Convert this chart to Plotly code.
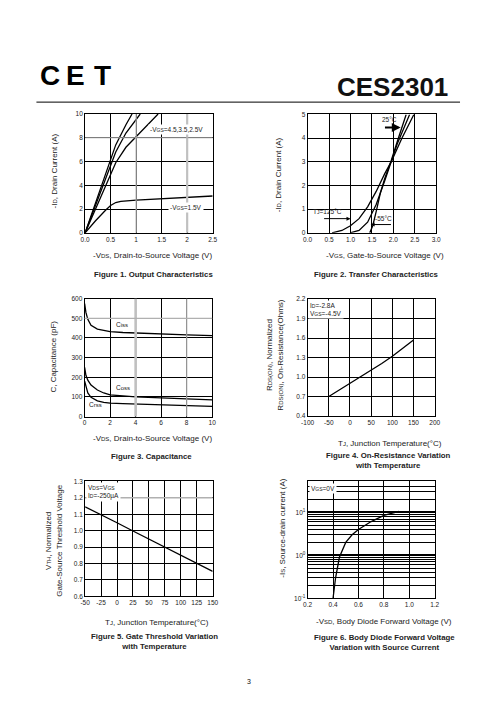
import plotly.graph_objects as go

W, H = 496, 723
OFF = 8  # page body margin in the browser

# ---------------- data ----------------
# Fig 1 Output characteristics
f1_vds_45 = [0, 0.2, 0.4, 0.6, 0.8, 0.92]
f1_id_45 = [0, 2.5, 5.0, 7.4, 9.1, 10.0]
f1_vds_35 = [0, 0.2, 0.4, 0.6, 0.8, 1.0, 1.08]
f1_id_35 = [0, 2.3, 4.6, 6.8, 8.4, 9.5, 10.0]
f1_vds_25 = [0, 0.2, 0.4, 0.6, 0.8, 1.0, 1.2, 1.43]
f1_id_25 = [0, 2.0, 4.0, 5.9, 7.2, 8.1, 9.0, 10.0]
f1_vds_15 = [0, 0.2, 0.4, 0.5, 0.6, 0.7, 1.0, 1.5, 2.0, 2.5]
f1_id_15 = [0, 1.0, 1.9, 2.3, 2.55, 2.65, 2.75, 2.85, 2.95, 3.1]

# Fig 2 Transfer characteristics
f2_vgs_125 = [0.57, 0.8, 1.0, 1.2, 1.4, 1.6, 1.8, 1.95, 2.2, 2.48]
f2_id_125 = [0, 0.1, 0.3, 0.6, 1.1, 1.75, 2.5, 3.0, 4.0, 5.0]
f2_vgs_25 = [0.99, 1.2, 1.4, 1.6, 1.8, 1.95, 2.1, 2.38]
f2_id_25 = [0, 0.1, 0.45, 1.2, 2.2, 3.0, 3.8, 5.0]
f2_vgs_m55 = [1.45, 1.52, 1.6, 1.7, 1.8, 1.95, 2.1, 2.3]
f2_id_m55 = [0, 0.3, 0.9, 1.7, 2.3, 3.05, 3.9, 5.0]

# Fig 3 Capacitance
f3_vds = [0, 0.1, 0.25, 0.5, 1, 1.5, 2, 3, 4, 6, 8, 10]
f3_ciss = [575, 530, 495, 465, 445, 437, 432, 428, 425, 420, 416, 412]
f3_coss = [250, 210, 185, 160, 135, 120, 110, 104, 100, 95, 90, 85]
f3_crss = [180, 150, 120, 98, 80, 72, 68, 66, 64, 60, 56, 52]

# Fig 4 On-resistance vs temperature
f4_tj = [-50, -25, 0, 25, 50, 75, 100, 125, 150]
f4_rds = [0.70, 0.80, 0.90, 1.00, 1.10, 1.21, 1.32, 1.44, 1.57]

# Fig 5 Gate threshold vs temperature
f5_tj = [-50, -25, 0, 25, 50, 75, 100, 125, 150]
f5_vth = [1.145, 1.098, 1.048, 0.998, 0.948, 0.898, 0.850, 0.800, 0.752]

# Fig 6 Body diode
f6_vsd = [0.40, 0.42, 0.45, 0.50, 0.55, 0.60, 0.70, 0.80, 0.92]
f6_is = [0.1, 0.3, 0.9, 2.0, 3.0, 4.0, 6.1, 8.5, 10.5]

# tick labels
f1_xticks = [0, 0.5, 1, 1.5, 2, 2.5]
f1_xlabels = ["0.0", "0.5", "1", "1.5", "2", "2.5"]
f4_xticks = [-100, -50, 0, 50, 100, 150, 200]
f4_xlabels = ["-100", "-50", "0", "50", "100", "150", "200"]
f5_xticks = [-50, -25, 0, 25, 50, 75, 100, 125, 150]
f5_xlabels = ["-50", "-25", "0", "25", "50", "75", "100", "125", "150"]
f6_yticks = [0.1, 1, 10]
f6_ylabels = ["10<sup>-1</sup>", "10<sup>0</sup>", "10<sup>1</sup>"]

FONT = "Liberation Sans, Arial, sans-serif"
TICK = dict(family=FONT, size=6.5, color="#222")
TITLE_SIZE = 8


def sm(s, size=6):
    return f"<span style='font-size:{size}px'>{s}</span>"


def px_x(p):
    return (p - OFF) / W


def px_y(p):
    return 1 - (p - OFF) / H


# plot areas (pixels): x0, x1, ytop, ybot
areas = {
    1: (80, 211, 111, 231),
    2: (308.5, 440.5, 111.5, 231),
    3: (79.5, 210.5, 297.5, 416.5),
    4: (308.5, 439, 298, 416),
    5: (80, 211, 482, 598),
    6: (308.5, 439, 482, 600),
}

fig = go.Figure()
line = dict(color="black", width=1.3)


def add(i, x, y):
    fig.add_trace(go.Scatter(x=x, y=y, mode="lines", line=line,
                             xaxis=f"x{i}" if i > 1 else "x",
                             yaxis=f"y{i}" if i > 1 else "y",
                             showlegend=False, hoverinfo="skip"))


add(1, f1_vds_45, f1_id_45)
add(1, f1_vds_35, f1_id_35)
add(1, f1_vds_25, f1_id_25)
add(1, f1_vds_15, f1_id_15)
add(2, f2_vgs_125, f2_id_125)
add(2, f2_vgs_25, f2_id_25)
add(2, f2_vgs_m55, f2_id_m55)
add(3, f3_vds, f3_ciss)
add(3, f3_vds, f3_coss)
add(3, f3_vds, f3_crss)
add(4, f4_tj, f4_rds)
add(5, f5_tj, f5_vth)
add(6, f6_vsd, f6_is)

axcommon = dict(showline=True, mirror=True, linecolor="black", linewidth=1,
                showgrid=True, gridcolor="black", gridwidth=1, zeroline=False,
                ticks="", tickfont=TICK, fixedrange=True)

xcfg = {
    1: dict(range=[0, 2.5], tickvals=f1_xticks, ticktext=f1_xlabels),
    2: dict(range=[0, 3.0], dtick=0.5, tick0=0, tickformat=".1f"),
    3: dict(range=[0, 10], dtick=2, tick0=0),
    4: dict(range=[-100, 200], tickvals=f4_xticks, ticktext=f4_xlabels),
    5: dict(range=[-50, 150], tickvals=f5_xticks, ticktext=f5_xlabels),
    6: dict(range=[0.2, 1.2], dtick=0.2, tick0=0.2, tickformat=".1f"),
}
ycfg = {
    1: dict(range=[0, 10], dtick=2, tick0=0),
    2: dict(range=[0, 5], dtick=1, tick0=0),
    3: dict(range=[0, 600], dtick=100, tick0=0),
    4: dict(range=[0.4, 2.2], dtick=0.3, tick0=0.4, tickformat=".1f"),
    5: dict(range=[0.6, 1.3], dtick=0.1, tick0=0.6, tickformat=".1f"),
    6: dict(type="log", range=[-1, 1.72], tickvals=f6_yticks, ticktext=f6_ylabels, gridwidth=2.2,
            minor=dict(dtick="D1", showgrid=True, gridcolor="black", gridwidth=1, ticks="")),
}

lay = {}
for i, (x0, x1, yt, yb) in areas.items():
    xn = "xaxis" if i == 1 else f"xaxis{i}"
    yn = "yaxis" if i == 1 else f"yaxis{i}"
    xa = dict(axcommon, domain=[px_x(x0), px_x(x1)], anchor="y" if i == 1 else f"y{i}")
    xa.update(xcfg[i])
    ya = dict(axcommon, domain=[px_y(yb), px_y(yt)], anchor="x" if i == 1 else f"x{i}")
    ya.update(ycfg[i])
    lay[xn] = xa
    lay[yn] = ya

fig.update_layout(**lay)

# lighter (scan-faded) grid lines seen in the reference
shapes = [dict(type="line", xref="paper", yref="paper", x0=px_x(30), x1=px_x(465),
               y0=px_y(99), y1=px_y(99), line=dict(color="black", width=1))]


def vgrid(i, xv, color, w):
    shapes.append(dict(type="line", xref="x" if i == 1 else f"x{i}", yref=("y" if i == 1 else f"y{i}") + " domain",
                       x0=xv, x1=xv, y0=0, y1=1, layer="above", line=dict(color=color, width=w)))


def hgrid(i, yv, color, w, x0=0, x1=1):
    shapes.append(dict(type="line", yref="y" if i == 1 else f"y{i}", xref=("x" if i == 1 else f"x{i}") + " domain",
                       y0=yv, y1=yv, x0=x0, x1=x1, layer="above", line=dict(color=color, width=w)))


vgrid(1, 1, "#b0b0b0", 1.2)
vgrid(1, 2, "#c0c0c0", 2.2)
hgrid(1, 8, "#a8a8a8", 1.2)
vgrid(3, 4, "#c0c0c0", 2.6)
vgrid(3, 8, "#a0a0a0", 1.2)
hgrid(3, 500, "#b0b0b0", 1.2)
hgrid(5, 1.2, "#b0b0b0", 1.5)

ann = []


def paper_text(text, x, y, size=TITLE_SIZE, bold=False, angle=0, xanchor="center", color="#222"):
    t = f"<b>{text}</b>" if bold else text
    ann.append(dict(text=t, x=px_x(x), y=px_y(y), xref="paper", yref="paper",
                    showarrow=False, xanchor=xanchor, yanchor="middle", textangle=angle,
                    font=dict(family=FONT, size=size, color=color)))


# header
for ch, cx in (("C", 44), ("E", 70), ("T", 98)):
    paper_text(ch, cx, 72, size=28, bold=True, color="black")
paper_text("CES2301", 455, 84, size=26, bold=True, xanchor="right", color="#111")
paper_text("3", 248, 684, size=7, color="#111")

# x-axis titles
paper_text("-V" + sm("DS") + ", Drain-to-Source Voltage (V)", 149, 254)
paper_text("-V" + sm("GS") + ", Gate-to-Source Voltage (V)", 388, 254)
paper_text("-V" + sm("DS") + ", Drain-to-Source Voltage (V)", 149, 439)
paper_text("T" + sm("J") + ", Junction Temperature(°C)", 393, 444)
paper_text("T" + sm("J") + ", Junction Temperature(°C)", 154, 624)
paper_text("-V" + sm("SD") + ", Body Diode Forward Voltage (V)", 387, 623)

# y-axis titles
paper_text("-I" + sm("D") + ", Drain Current (A)", 48, 168, angle=-90)
paper_text("-I" + sm("D") + ", Drain Current (A)", 278, 172, angle=-90)
paper_text("C, Capacitance (pF)", 48, 356, angle=-90)
paper_text("R" + sm("DS(ON)") + ", Normalized<br>R" + sm("DS(ON)") + ", On-Resistance(Ohms)", 275, 355, angle=-90)
paper_text("V" + sm("TH") + ", Normalized<br>Gate-Source Threshold Voltage", 48, 542, angle=-90)
paper_text("-I" + sm("S") + ", Source-drain current (A)", 283, 529, angle=-90)

# captions
paper_text("Figure 1. Output Characteristics", 150, 273, bold=True, size=7.8)
paper_text("Figure 2. Transfer Characteristics", 379, 273, bold=True, size=7.8)
paper_text("Figure 3. Capacitance", 148, 457, bold=True, size=7.8)
paper_text("Figure 4. On-Resistance Variation<br>with Temperature", 392, 461, bold=True, size=7.8)
paper_text("Figure 5. Gate Threshold Variation<br>with Temperature", 151, 644, bold=True, size=7.8)
paper_text("Figure 6. Body Diode Forward Voltage<br>Variation with Source Current", 387, 645, bold=True, size=7.8)

# in-plot labels
LBL = dict(family=FONT, size=6.5, color="#222")


def data_text(i, text, x, y, bg=None, xanchor="center", yanchor="middle", align="center"):
    d = dict(text=text, x=x, y=y, xref="x" if i == 1 else f"x{i}", yref="y" if i == 1 else f"y{i}",
             showarrow=False, xanchor=xanchor, yanchor=yanchor, font=LBL, align=align)
    if bg:
        d["bgcolor"] = bg
    ann.append(d)


data_text(1, "-V" + sm("GS", 5) + "=4.5,3.5,2.5V", 1.8, 8.7, bg="white")
data_text(1, "-V" + sm("GS", 5) + "=1.5V", 1.98, 2.15, bg="white")

data_text(3, "C" + sm("iss", 6), 2.9, 468)
data_text(3, "C" + sm("oss", 6), 3.0, 146)
data_text(3, "C" + sm("rss", 6), 0.85, 60)

data_text(4, "I" + sm("D", 5) + "=-2.8A<br>V" + sm("GS", 5) + "=-4.5V", -98, 2.18, bg="white",
          xanchor="left", yanchor="top", align="left")
data_text(5, "V" + sm("DS", 5) + "=V" + sm("GS", 5) + "<br>I" + sm("D", 5) + "=-250µA", -49, 1.295, bg="white",
          xanchor="left", yanchor="top", align="left")
ann.append(dict(text="V" + sm("GS", 5) + "=0V", x=0.21, y=1.68, xref="x6", yref="y6",
                showarrow=False, xanchor="left", yanchor="top", font=LBL, bgcolor="white"))

# Fig 2 labels and arrows
data_text(2, "25°C", 1.9, 4.78)
data_text(2, "T" + sm("J", 5) + "=125°C", 0.47, 0.9)
data_text(2, "-55°C", 1.78, 0.62)
for (x, y, ax, ay, w) in ((2.17, 4.45, 1.77, 4.45, 2.2), (1.0, 0.6, 0.35, 0.6, 1), (1.47, 0.35, 1.98, 0.35, 1)):
    ann.append(dict(text="", x=x, y=y, ax=ax, ay=ay, xref="x2", yref="y2", axref="x2", ayref="y2",
                    showarrow=True, arrowhead=2, arrowsize=0.8, arrowwidth=w, arrowcolor="black"))

fig.update_layout(
    annotations=ann,
    width=W, height=H,
    margin=dict(l=0, r=0, t=0, b=0),
    paper_bgcolor="white", plot_bgcolor="white",
    showlegend=False,
    shapes=shapes,
)

fig.write_html("out.html", config={"displayModeBar": False})
